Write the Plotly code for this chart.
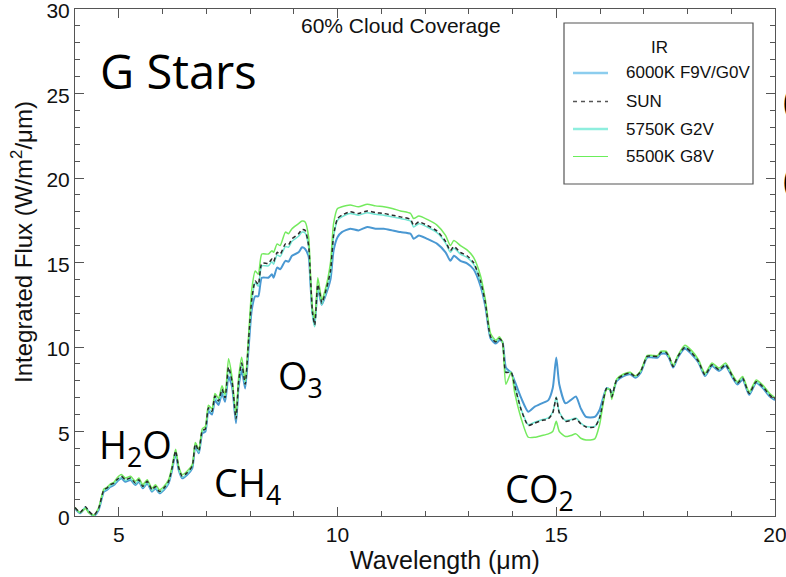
import plotly.graph_objects as go

# Wavelength grid (micron)
wavelength = [
    4.00, 4.12, 4.24, 4.31, 4.43, 4.54, 4.66, 4.73, 4.81, 4.89,
    4.96, 5.06, 5.15, 5.27, 5.38, 5.46, 5.55, 5.65, 5.76, 5.84,
    5.93, 6.03, 6.14, 6.22, 6.30, 6.37, 6.45, 6.56, 6.68, 6.75,
    6.83, 6.91, 6.98, 7.05, 7.13, 7.20, 7.28, 7.36, 7.43, 7.51,
    7.59, 7.68, 7.74, 7.81, 7.89, 7.97, 8.04, 8.12, 8.19, 8.27,
    8.42, 8.50, 8.54, 8.62, 8.69, 8.81, 8.88, 8.96, 9.11, 9.19,
    9.26, 9.34, 9.38, 9.43, 9.48, 9.55, 9.61, 9.64, 9.72, 9.84,
    9.91, 10.00, 10.10, 10.29, 10.48, 10.68, 10.87, 11.06, 11.25, 11.44,
    11.67, 11.74, 11.86, 12.05, 12.28, 12.47, 12.58, 12.66, 12.81, 12.96,
    13.11, 13.27, 13.38, 13.50, 13.62, 13.70, 13.77, 13.85, 13.97, 14.05,
    14.20, 14.36, 14.51, 14.67, 14.82, 14.92, 15.00, 15.07, 15.21, 15.33,
    15.45, 15.56, 15.68, 15.88, 15.99, 16.15, 16.23, 16.27, 16.38, 16.54,
    16.69, 16.81, 16.93, 17.08, 17.20, 17.32, 17.39, 17.51, 17.59, 17.67,
    17.78, 17.94, 18.09, 18.25, 18.40, 18.56, 18.72, 18.87, 19.03, 19.14,
    19.26, 19.41, 19.57, 19.72, 19.88, 20.00,
]

# Integrated flux (W/m^2/um), 60% cloud coverage
flux_6000k = [
    0.45, 0.16, 0.50, 0.25, 0.00, 0.36, 1.44, 1.54, 1.73, 1.83,
    2.03, 2.23, 2.03, 2.13, 1.83, 2.03, 1.64, 1.93, 1.44, 1.64,
    1.34, 1.54, 1.93, 2.72, 3.71, 2.72, 2.23, 2.43, 2.82, 4.10,
    3.71, 4.89, 4.99, 6.20, 6.00, 6.86, 6.57, 7.26, 6.76, 8.24,
    7.65, 5.49, 7.65, 8.64, 7.55, 10.0, 12.2, 13.0, 13.0, 14.1,
    14.1, 14.3, 14.1, 14.7, 14.6, 15.1, 15.05, 15.4, 15.6, 15.9,
    15.8, 15.35, 13.8, 12.0, 11.5, 13.4, 12.8, 12.5, 13.0, 14.0,
    15.7, 16.5, 16.8, 17.0, 16.9, 17.1, 17.0, 17.0, 16.9, 16.8,
    16.7, 16.4, 16.6, 16.4, 16.1, 15.6, 15.1, 15.4, 15.1, 14.95,
    14.6, 13.6, 12.4, 10.5, 10.2, 10.4, 10.3, 8.78, 8.48, 7.98,
    6.97, 6.17, 6.47, 6.67, 6.86, 7.57, 9.38, 7.78, 6.67, 6.86,
    7.07, 6.37, 5.86, 5.86, 6.27, 7.57, 7.47, 7.07, 7.98, 8.28,
    8.38, 8.18, 8.48, 9.38, 9.38, 9.38, 9.59, 9.59, 9.28, 8.78,
    9.38, 9.89, 9.59, 9.08, 8.28, 8.88, 8.58, 8.88, 8.18, 7.78,
    8.08, 7.17, 7.88, 7.57, 7.07, 6.86,
]

flux_sun = [
    0.50, 0.22, 0.55, 0.30, 0.05, 0.45, 1.55, 1.65, 1.85, 1.95,
    2.15, 2.35, 2.15, 2.25, 1.95, 2.15, 1.75, 2.05, 1.55, 1.75,
    1.45, 1.65, 2.05, 2.85, 3.85, 2.85, 2.35, 2.55, 2.95, 4.25,
    3.85, 5.05, 5.15, 6.40, 6.20, 7.10, 6.80, 7.50, 7.00, 8.80,
    7.95, 5.75, 7.95, 9.05, 7.80, 10.5, 12.8, 13.9, 13.7, 14.95,
    14.95, 15.2, 15.05, 15.6, 15.5, 16.1, 16.05, 16.4, 16.7, 16.95,
    16.9, 16.0, 14.2, 12.0, 11.3, 13.7, 13.0, 12.6, 13.2, 14.5,
    16.6, 17.6, 17.8, 18.0, 17.9, 18.05, 17.95, 17.9, 17.8, 17.7,
    17.55, 17.2, 17.4, 17.2, 16.85, 16.25, 15.7, 15.95, 15.6, 15.4,
    15.0, 13.9, 12.6, 10.6, 10.3, 10.5, 10.3, 8.5, 8.5, 7.7,
    6.27, 5.36, 5.50, 5.65, 5.75, 6.10, 7.00, 6.10, 5.60, 5.65,
    5.75, 5.45, 5.27, 5.27, 5.80, 7.55, 7.50, 7.05, 8.05, 8.35,
    8.45, 8.25, 8.55, 9.45, 9.45, 9.45, 9.68, 9.68, 9.35, 8.85,
    9.45, 9.98, 9.68, 9.15, 8.35, 8.95, 8.65, 8.95, 8.25, 7.85,
    8.15, 7.25, 7.95, 7.65, 7.15, 6.93,
]

flux_5750k = [
    0.48, 0.20, 0.52, 0.28, 0.03, 0.42, 1.50, 1.60, 1.80, 1.90,
    2.10, 2.30, 2.10, 2.20, 1.90, 2.10, 1.70, 2.00, 1.50, 1.70,
    1.40, 1.60, 2.00, 2.80, 3.80, 2.80, 2.30, 2.50, 2.90, 4.20,
    3.80, 5.00, 5.10, 6.35, 6.15, 7.05, 6.75, 7.45, 6.95, 8.70,
    7.90, 5.70, 7.90, 9.00, 7.75, 10.4, 12.7, 13.8, 13.6, 14.8,
    14.8, 15.05, 14.9, 15.45, 15.35, 15.95, 15.9, 16.25, 16.55, 16.8,
    16.75, 15.9, 14.0, 11.8, 11.2, 13.5, 12.9, 12.5, 13.1, 14.4,
    16.5, 17.5, 17.7, 17.9, 17.8, 17.95, 17.85, 17.8, 17.7, 17.6,
    17.45, 17.1, 17.3, 17.1, 16.75, 16.15, 15.6, 15.85, 15.5, 15.3,
    14.9, 13.85, 12.55, 10.6, 10.3, 10.5, 10.3, 8.55, 8.5, 7.75,
    6.30, 5.40, 5.55, 5.70, 5.80, 6.15, 7.05, 6.15, 5.65, 5.70,
    5.80, 5.50, 5.30, 5.30, 5.85, 7.55, 7.50, 7.05, 8.05, 8.35,
    8.45, 8.25, 8.55, 9.45, 9.45, 9.45, 9.68, 9.68, 9.35, 8.85,
    9.45, 9.98, 9.68, 9.15, 8.35, 8.95, 8.65, 8.95, 8.25, 7.85,
    8.15, 7.25, 7.95, 7.65, 7.15, 6.93,
]

flux_5500k = [
    0.50, 0.20, 0.45, 0.20, 0.05, 0.50, 1.60, 1.70, 1.90, 2.00,
    2.25, 2.45, 2.25, 2.35, 2.05, 2.25, 1.85, 2.15, 1.65, 1.85,
    1.55, 1.75, 2.15, 2.95, 3.95, 2.95, 2.45, 2.65, 3.05, 4.35,
    3.95, 5.15, 5.30, 6.55, 6.35, 7.25, 6.95, 7.70, 7.20, 9.30,
    8.20, 6.00, 8.20, 9.40, 8.00, 10.8, 13.4, 14.5, 14.3, 15.5,
    15.5, 15.7, 15.6, 16.1, 16.0, 16.8, 16.7, 17.0, 17.3, 17.45,
    17.4, 16.5, 14.5, 12.2, 11.7, 14.1, 13.2, 12.8, 13.4, 15.0,
    17.3, 18.2, 18.3, 18.4, 18.3, 18.45, 18.35, 18.3, 18.2, 18.05,
    17.9, 17.6, 17.75, 17.55, 17.2, 16.6, 16.0, 16.3, 16.0, 15.75,
    15.3, 14.2, 12.8, 10.8, 10.4, 10.6, 10.3, 7.8, 8.5, 7.3,
    5.76, 4.66, 4.66, 4.76, 4.86, 5.00, 5.60, 5.00, 4.70, 4.76,
    4.86, 4.60, 4.50, 4.56, 5.40, 7.50, 7.50, 6.90, 8.10, 8.40,
    8.50, 8.30, 8.60, 9.50, 9.50, 9.50, 9.75, 9.75, 9.40, 8.90,
    9.50, 10.1, 9.80, 9.25, 8.45, 9.05, 8.75, 9.05, 8.35, 7.95,
    8.25, 7.35, 8.05, 7.75, 7.25, 7.00,
]

series_names = ["6000K F9V/G0V", "SUN", "5750K G2V", "5500K G8V"]
legend_title = "IR"
chart_title = "60% Cloud Coverage"
x_label = "Wavelength (μm)"
y_label = "Integrated Flux (W/m<sup>2</sup>/μm)"
x_ticks = [5, 10, 15, 20]
y_ticks = [0, 5, 10, 15, 20, 25, 30]

# Figure geometry (pixels)
W, H = 786, 577
L, R, T, B = 75, 11, 9, 61
PW, PH = W - L - R, H - T - B


def px(x):
    return (x - L) / PW


def py(y):
    return (H - B - y) / PH


HELV = "Liberation Sans, Arial, Helvetica, sans-serif"
SLIDE = "Open Sans, Noto Sans, sans-serif"

line_color_6000 = "#4a98d2"
line_color_5750 = "#72e6d4"
line_color_5500 = "#74ea5e"
line_color_sun = "#2a2a2a"

fig = go.Figure()
fig.add_trace(go.Scatter(x=wavelength, y=flux_6000k, mode="lines", name=series_names[0],
                         line=dict(color=line_color_6000, width=2, shape="spline", smoothing=0.6),
                         showlegend=False))
fig.add_trace(go.Scatter(x=wavelength, y=flux_5750k, mode="lines", name=series_names[2],
                         line=dict(color=line_color_5750, width=1.5, shape="spline", smoothing=0.6),
                         showlegend=False))
fig.add_trace(go.Scatter(x=wavelength, y=flux_5500k, mode="lines", name=series_names[3],
                         line=dict(color=line_color_5500, width=1.5, shape="spline", smoothing=0.6),
                         showlegend=False))
fig.add_trace(go.Scatter(x=wavelength, y=flux_sun, mode="lines", name=series_names[1],
                         line=dict(color=line_color_sun, width=1.5, dash="4px,3px", shape="spline", smoothing=0.6),
                         showlegend=False))

axis_common = dict(
    showline=True, linecolor="#555", linewidth=1, mirror="allticks",
    ticks="inside", ticklen=9, tickcolor="#555", tickwidth=1,
    showgrid=False, zeroline=False, ticklabeloverflow="allow",
    tickfont=dict(family=HELV, size=21, color="#111"),
)
fig.update_xaxes(range=[4, 20], tickvals=x_ticks,
                 minor=dict(dtick=1, tick0=0, ticks="inside", ticklen=5, tickcolor="#555"),
                 **axis_common)
fig.update_yaxes(range=[0, 30], tickvals=y_ticks, ticklabelshift=2,
                 minor=dict(dtick=1, tick0=0, ticks="inside", ticklen=5, tickcolor="#555"),
                 **axis_common)

ann = []
# axis titles and chart title
ann.append(dict(x=px(445), y=py(560), text=x_label, showarrow=False,
                font=dict(family=HELV, size=25, color="#111"), xanchor="center", yanchor="middle"))
ann.append(dict(x=px(22), y=py(242), text=y_label, showarrow=False, textangle=-90,
                font=dict(family=HELV, size=24, color="#111"), xanchor="center", yanchor="middle"))
ann.append(dict(x=px(401), y=py(26), text=chart_title, showarrow=False,
                font=dict(family=HELV, size=21, color="#111"), xanchor="center", yanchor="middle"))

# slide labels
ann.append(dict(x=px(98), y=py(71), text="G Stars", showarrow=False,
                font=dict(family=SLIDE, size=47, color="#000"), xanchor="left", yanchor="middle"))
ann.append(dict(x=px(97), y=py(446), text="H<sub>2</sub>O", showarrow=False,
                font=dict(family=SLIDE, size=38, color="#000"), xanchor="left", yanchor="middle"))
ann.append(dict(x=px(212), y=py(484), text="CH<sub>4</sub>", showarrow=False,
                font=dict(family=SLIDE, size=38, color="#000"), xanchor="left", yanchor="middle"))
ann.append(dict(x=px(276), y=py(378), text="O<sub>3</sub>", showarrow=False,
                font=dict(family=SLIDE, size=38, color="#000"), xanchor="left", yanchor="middle"))
ann.append(dict(x=px(503), y=py(490), text="CO<sub>2</sub>", showarrow=False,
                font=dict(family=SLIDE, size=38, color="#000"), xanchor="left", yanchor="middle"))
for yy in (100, 180):
    ann.append(dict(x=px(781), y=py(yy), text="(", showarrow=False,
                    font=dict(family=SLIDE, size=36, color="#000"), xanchor="left", yanchor="middle"))

# legend box
shapes = [dict(type="rect", xref="paper", yref="paper", x0=px(564), x1=px(753), y0=py(184), y1=py(23),
               line=dict(color="#555", width=1.2), fillcolor="rgba(255,255,255,0)")]
ann.append(dict(x=px(659), y=py(48), text=legend_title, showarrow=False,
                font=dict(family=HELV, size=17, color="#111"), xanchor="center", yanchor="middle"))
legend_styles = [
    ("#8ccdee", 2.5, "solid"),
    ("#555555", 1.5, "4px,4px"),
    ("#8eeede", 2.5, "solid"),
    ("#6aee5a", 1.2, "solid"),
]
legend_rows = [73, 101.5, 129, 156.5]
for name, (col, wid, dash), yy in zip(series_names, legend_styles, legend_rows):
    shapes.append(dict(type="line", xref="paper", yref="paper", x0=px(573), x1=px(608), y0=py(yy), y1=py(yy),
                       line=dict(color=col, width=wid, dash=dash)))
    ann.append(dict(x=px(624), y=py(yy), text=name, showarrow=False,
                    font=dict(family=HELV, size=17, color="#111"), xanchor="left", yanchor="middle"))

for a in ann:
    a.setdefault("xref", "paper")
    a.setdefault("yref", "paper")

fig.update_layout(
    width=W, height=H,
    margin=dict(l=L, r=R, t=T, b=B, autoexpand=False),
    paper_bgcolor="white", plot_bgcolor="white",
    showlegend=False,
    annotations=ann, shapes=shapes,
)

fig.write_html("out.html")
